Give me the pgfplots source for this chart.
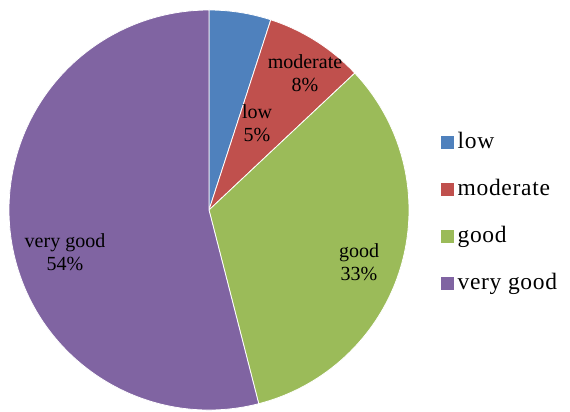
\documentclass[border=0pt]{standalone}
\usepackage{pgfplots}
\pgfplotsset{compat=1.18}
\usepackage{fontspec}
\setmainfont{Liberation Serif}
\newfontfamily\legfont[LetterSpace=3]{Liberation Serif}

\definecolor{cLow}{HTML}{4F81BD}
\definecolor{cMod}{HTML}{C0504D}
\definecolor{cGood}{HTML}{9BBB59}
\definecolor{cVery}{HTML}{8064A2}

% shares in percent
\def\vLow{5}
\def\vMod{8}
\def\vGood{33}
\def\vVery{54}

\begin{document}
\begin{tikzpicture}
\begin{axis}[
    width=570bp, height=412bp, scale only axis,
    xmin=0, xmax=570, ymin=0, ymax=412,
    hide axis, clip=false,
    legend style={draw=none, fill=none, at={(axis cs:441,281)}, anchor=north west,
      inner sep=0pt, nodes={inner xsep=4.5bp, inner ysep=0pt, text height=17bp, text depth=6bp},
      font=\legfont\fontsize{23.5bp}{26bp}\selectfont, row sep=24bp},
    legend cell align=left,
    legend image code/.code={\fill[#1] (0bp,-5.5bp) rectangle (11.5bp,6bp);},
  ]
  \addlegendimage{cLow}\addlegendentry{low}
  \addlegendimage{cMod}\addlegendentry{moderate}
  \addlegendimage{cGood}\addlegendentry{good}
  \addlegendimage{cVery}\addlegendentry{very good}

  \pgfmathsetmacro\aA{90}
  \pgfmathsetmacro\aB{\aA-3.6*\vLow}
  \pgfmathsetmacro\aC{\aB-3.6*\vMod}
  \pgfmathsetmacro\aD{\aC-3.6*\vGood}
  \pgfmathsetmacro\aE{\aD-3.6*\vVery}

  \fill[cLow, draw=white, line width=0.8pt] (axis cs:209,202) -- ++(\aA:200bp)
    arc[start angle=\aA, end angle=\aB, radius=200bp] -- cycle;
  \fill[cMod, draw=white, line width=0.8pt] (axis cs:209,202) -- ++(\aB:200bp)
    arc[start angle=\aB, end angle=\aC, radius=200bp] -- cycle;
  \fill[cGood, draw=white, line width=0.8pt] (axis cs:209,202) -- ++(\aC:200bp)
    arc[start angle=\aC, end angle=\aD, radius=200bp] -- cycle;
  \fill[cVery, draw=white, line width=0.8pt] (axis cs:209,202) -- ++(\aD:200bp)
    arc[start angle=\aD, end angle=\aE, radius=200bp] -- cycle;

  \begin{scope}[every node/.style={align=center, font=\fontsize{20bp}{23bp}\selectfont}]
    \node at (axis cs:305,339) {moderate\\8\%};
    \node at (axis cs:257,289) {low\\5\%};
    \node at (axis cs:359,150) {good\\33\%};
    \node at (axis cs:65,160) {very good\\54\%};
  \end{scope}
\end{axis}
\pgfresetboundingbox
\path (0,0) rectangle (570bp,412bp);
\end{tikzpicture}
\end{document}
